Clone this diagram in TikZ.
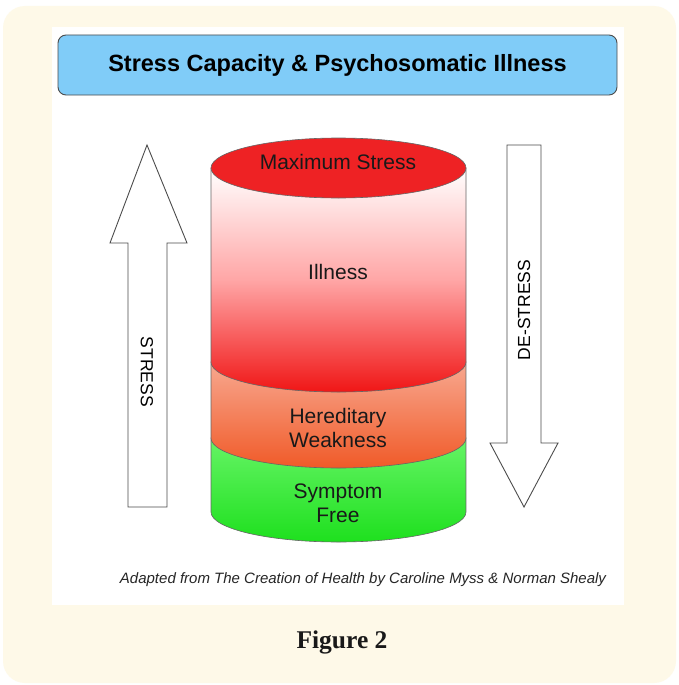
\documentclass[tikz,border=0pt]{standalone}
\usepackage{fontspec}
\setmainfont{Liberation Sans}
\newfontfamily\figfont{Liberation Serif}
\definecolor{creambg}{HTML}{FEF9E8}
\definecolor{titleblue}{HTML}{80CCF8}
\definecolor{maxred}{HTML}{EE2224}
\definecolor{illred}{HTML}{F01616}
\definecolor{heredtop}{HTML}{F8A890}
\definecolor{heredbot}{HTML}{F05A28}
\definecolor{greentop}{HTML}{66F466}
\definecolor{greenbot}{HTML}{1EE01E}
\begin{document}
\begin{tikzpicture}[
        x=1pt,
        y=-1pt,
        font=\fontsize{21}{24}\selectfont
    ]
    \tikzset{
        bigarrow/.style = {draw=black!70, fill=white, line width=0.9pt, line join=miter},
        layer/.style = {draw=black!60, line width=0.6pt},
        lbl/.style = {align=center, text=black!90},
    }
    \useasboundingbox (0,0) rectangle (678,685);
    \fill[white] (0,0) rectangle (678,685);
    \fill[creambg, rounded corners=22pt] (3,6) rectangle (676,683);
    \fill[white] (52,27) rectangle (624,605);
    %
    \node[draw=black!70, fill=titleblue, rounded corners=8pt, line width=0.9pt,
          minimum width=559pt, minimum height=60pt,
          font=\fontsize{23.5}{26}\selectfont\bfseries] (title) at (337.5,65) {Stress Capacity \& Psychosomatic Illness};
    %
    \draw[bigarrow] (147,145) -- (187,243) -- (167,243) -- (167,507) -- (128,507) -- (128,243) -- (110,243) -- cycle;
    \node[rotate=-90, font=\fontsize{17.5}{20}\selectfont] (stress) at (147,372) {STRESS};
    \draw[bigarrow] (507,145) -- (541,145) -- (541,443) -- (558,443) -- (524,507) -- (490,443) -- (507,443) -- cycle;
    \node[rotate=90, font=\fontsize{17.5}{20}\selectfont] (destress) at (524,310) {DE-STRESS};
    %
    \shade[layer, top color=greentop, bottom color=greenbot] (211,438) -- (211,512) arc[start angle=180, end angle=360, x radius=127.5, y radius=-30] -- (466,438) -- cycle;
    \shade[layer, top color=heredtop, bottom color=heredbot] (211,362) -- (211,438) arc[start angle=180, end angle=360, x radius=127.5, y radius=-30] -- (466,362) -- cycle;
    \shade[layer, top color=white, bottom color=illred, middle color=red!35] (211,168) -- (211,362) arc[start angle=180, end angle=360, x radius=127.5, y radius=-30] -- (466,168) -- cycle;
    \draw[layer, fill=maxred] (338.5,168) ellipse[x radius=127.5, y radius=30];
    %
    \node[lbl] (maxs) at (338,162) {Maximum Stress};
    \node[lbl] (ill) at (338,272) {Illness};
    \node[lbl] (hered) at (338,428) {Hereditary\\Weakness};
    \node[lbl] (free) at (338,503) {Symptom\\Free};
    %
    \node[font=\fontsize{15}{17}\selectfont\itshape, text=black!85] (credit) at (363,580) {Adapted from The Creation of Health by Caroline Myss \& Norman Shealy};
    \node[font=\figfont\fontsize{25.5}{28}\selectfont\bfseries, text=black!90] (fig) at (342,642) {Figure 2};
\end{tikzpicture}
\end{document}
